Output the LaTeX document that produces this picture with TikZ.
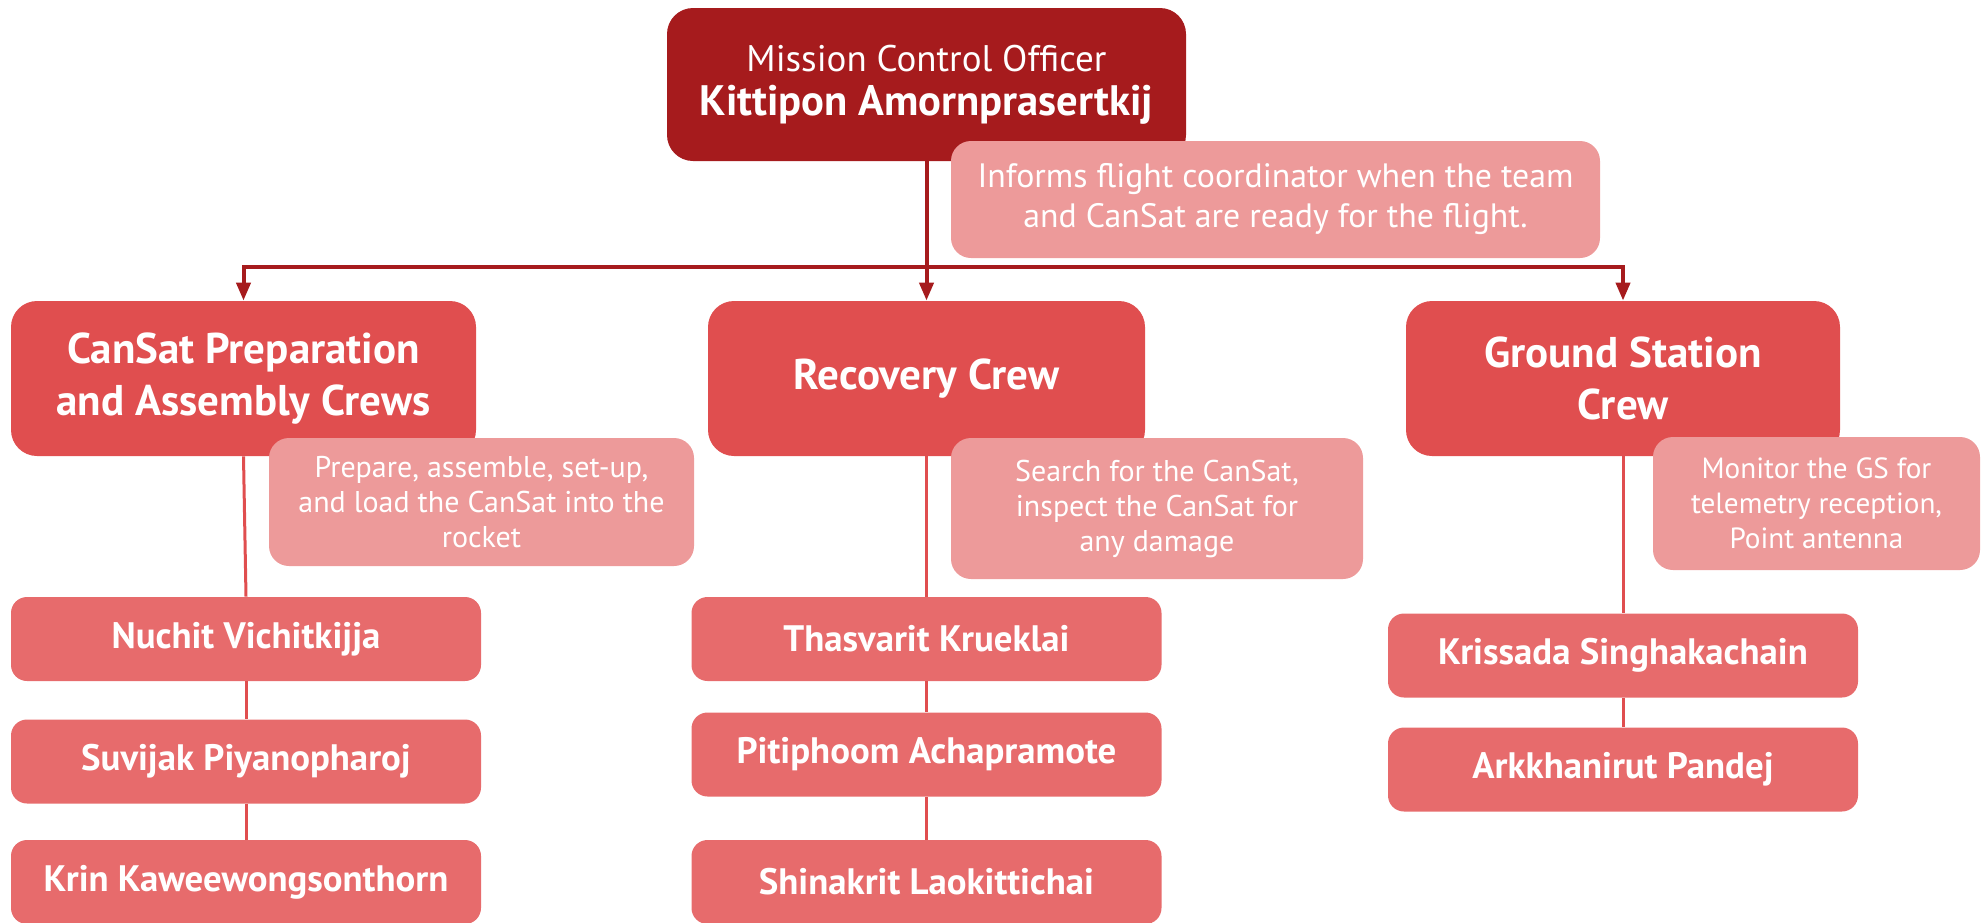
\documentclass[tikz,border=0pt]{standalone}
\usepackage{fontspec}
\setmainfont{PT Sans}
\usepackage{tikz}
\usetikzlibrary{arrows.meta}

\definecolor{chiefred}{HTML}{A61B1D}
\definecolor{crewred}{HTML}{E04E4F}
\definecolor{memberred}{HTML}{E76B6C}
\definecolor{dutyred}{HTML}{ED9A9A}

\tikzset{
	box/.style={rectangle, text=white, align=center, inner sep=0pt},
	chief/.style={box, fill=chiefred, rounded corners=13pt, minimum width=259.5pt, minimum height=76.5pt, font=\fontsize{18.5}{22}\selectfont},
	crew/.style={box, fill=crewred, rounded corners=13pt, minimum height=77.5pt, font=\bfseries\fontsize{21.5}{26}\selectfont},
	member/.style={box, fill=memberred, rounded corners=8pt, minimum width=235pt, minimum height=42pt, font=\bfseries\fontsize{18.4}{20}\selectfont},
	duty/.style={box, fill=dutyred, rounded corners=10pt, font=\fontsize{15}{17.5}\selectfont},
	link/.style={crewred, line width=1.5pt},
	feed/.style={chiefred, line width=2pt, -{Triangle[length=9pt,width=7pt]}}
}

\begin{document}
\begin{tikzpicture}[x=0.5pt,y=-0.5pt]
	\useasboundingbox (0,0) rectangle (1986,922);

	\node[chief] (mco) at (926.5,84.5) {Mission Control Officer\\\textbf{\fontsize{21.3}{22}\selectfont Kittipon Amornprasertkij}};

	\node[crew, minimum width=232.5pt] (prep) at (243.5,378.5) {CanSat Preparation\\and Assembly Crews};
	\node[crew, minimum width=218.5pt] (recov) at (926.5,378.5) {Recovery Crew};
	\node[crew, minimum width=217pt] (gs) at (1623,378.5) {Ground Station\\Crew};

	% crew members
	\node[member] (nuchit) at (246,639) {Nuchit Vichitkijja};
	\node[member] (suvijak) at (246,761.5) {Suvijak Piyanopharoj};
	\node[member] (krin) at (246,882) {Krin Kaweewongsonthorn};
	\node[member] (thasvarit) at (926.5,639) {Thasvarit Krueklai};
	\node[member] (pitiphoom) at (926.5,754.5) {Pitiphoom Achapramote};
	\node[member] (shinakrit) at (926.5,882) {Shinakrit Laokittichai};
	\node[member] (krissada) at (1623,655.5) {Krissada Singhakachain};
	\node[member] (arkkhanirut) at (1623,769.5) {Arkkhanirut Pandej};

	% arrows from the officer
	\coordinate (bar) at (926.5,267);
	\draw[feed] (mco.south) -- (recov.north);
	\draw[feed] (bar) -| (prep.north);
	\draw[feed] (bar) -| (gs.north);

	\draw[link] (prep.south) -- (nuchit.north);
	\draw[link] (nuchit.south) -- (suvijak.north);
	\draw[link] (suvijak.south) -- (krin.north);
	\draw[link] (recov.south) -- (thasvarit.north);
	\draw[link] (thasvarit.south) -- (pitiphoom.north);
	\draw[link] (pitiphoom.south) -- (shinakrit.north);
	\draw[link] (gs.south) -- (krissada.north);
	\draw[link] (krissada.south) -- (arkkhanirut.north);

	% duties
	\node[duty, minimum width=324.5pt, minimum height=58.5pt, font=\fontsize{16.9}{20}\selectfont] (inform) at (1275.5,199.5) {Informs flight coordinator when the team\\and CanSat are ready for the flight.};
	\node[duty, minimum width=212.5pt, minimum height=64pt] (prepduty) at (481.5,502) {Prepare, assemble, set-up,\\and load the CanSat into the\\rocket};
	\node[duty, minimum width=206pt, minimum height=70.5pt] (search) at (1157,508.5) {Search for the CanSat,\\inspect the CanSat for\\any damage};
	\node[duty, minimum width=163.5pt, minimum height=66.5pt, font=\fontsize{14.6}{17.5}\selectfont] (monitor) at (1816.5,503.5) {Monitor the GS for\\telemetry reception,\\Point antenna};
\end{tikzpicture}
\end{document}
